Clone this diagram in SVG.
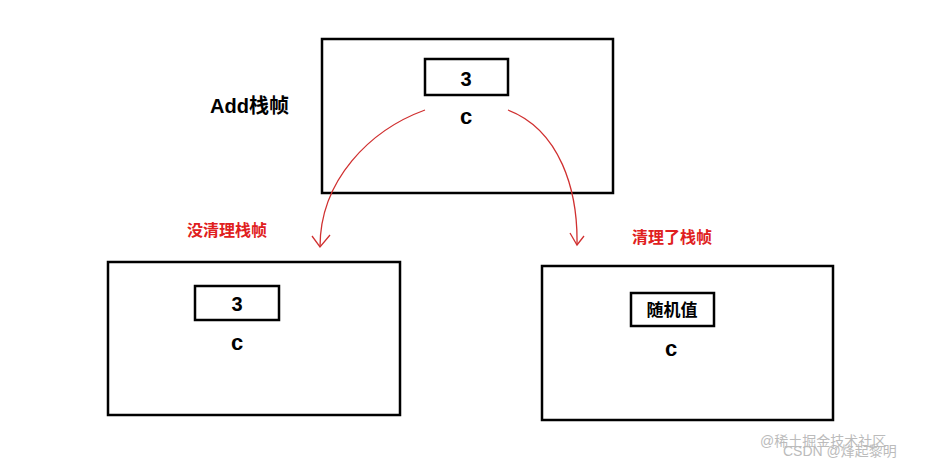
<svg xmlns="http://www.w3.org/2000/svg" width="940" height="469" viewBox="0 0 940 469">
<style>
.box{fill:none;stroke:#000;stroke-width:2.5}
.t{font-family:"Liberation Sans","Noto Sans CJK SC",sans-serif;font-weight:bold;fill:#000}
.r{font-family:"Liberation Sans","Noto Sans CJK SC",sans-serif;font-weight:bold;fill:#e02020;font-size:16px}
.c{fill:none;stroke:#d03030;stroke-width:1.3}
</style>
<rect width="940" height="469" fill="#fff"/>
<g id="add">
<rect class="box" x="322" y="39" width="291" height="154"/>
<rect class="box" x="425" y="59" width="83" height="36"/>
<text class="t" x="466" y="86" font-size="20" text-anchor="middle">3</text>
<text class="t" x="466" y="124" font-size="22" text-anchor="middle">c</text>
<text class="t" x="210" y="113" font-size="20">Add栈帧</text>
</g>
<g id="left">
<rect class="box" x="108" y="262" width="292" height="153"/>
<rect class="box" x="195" y="286" width="84" height="34"/>
<text class="t" x="237" y="311" font-size="20" text-anchor="middle">3</text>
<text class="t" x="237" y="350" font-size="22" text-anchor="middle">c</text>
</g>
<g id="right">
<rect class="box" x="542" y="266" width="291" height="154"/>
<rect class="box" x="631" y="293" width="83" height="33"/>
<text class="t" x="672" y="316" font-size="17" text-anchor="middle">随机值</text>
<text class="t" x="671" y="356" font-size="22" text-anchor="middle">c</text>
</g>
<g id="connectors">
<path class="c" d="M425 110 C370 130 320 180 320 247"/>
<path class="c" d="M312 236 L320 247 L330 235"/>
<path class="c" d="M508 110 C560 130 578 190 577 245"/>
<path class="c" d="M570 233 L577 245 L584 236"/>
<text class="r" x="187" y="236">没清理栈帧</text>
<text class="r" x="632" y="243">清理了栈帧</text>
</g>
<g font-family="Liberation Sans,Noto Sans CJK SC,sans-serif" font-size="14" fill="#bbb">
<text x="760" y="446">@稀土掘金技术社区</text>
<text x="783" y="456">CSDN @烽起黎明</text>
</g>
</svg>
